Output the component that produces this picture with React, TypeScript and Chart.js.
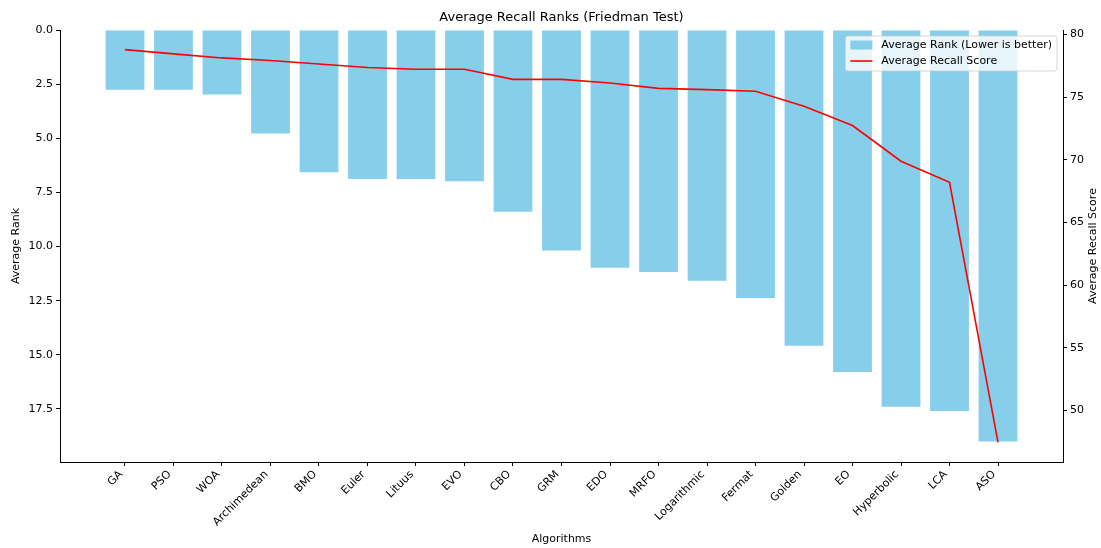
import React, { useEffect, useRef } from "react";
import { Chart, registerables } from "chart.js";

Chart.register(...registerables);

const algorithms = ["GA", "PSO", "WOA", "Archimedean", "BMO", "Euler", "Lituus", "EVO", "CBO", "GRM", "EDO", "MRFO", "Logarithmic", "Fermat", "Golden", "EO", "Hyperbolic", "LCA", "ASO"];
const avgRanks = [2.76, 2.76, 2.98, 4.78, 6.57, 6.88, 6.88, 6.99, 8.39, 10.18, 10.98, 11.18, 11.58, 12.38, 14.58, 15.79, 17.4, 17.59, 19.0];
const avgRecall = [78.8, 78.46, 78.14, 77.93, 77.66, 77.37, 77.23, 77.23, 76.43, 76.43, 76.14, 75.71, 75.61, 75.48, 74.28, 72.74, 69.89, 68.21, 47.44];
const rankTicks = [0, 2.5, 5, 7.5, 10, 12.5, 15, 17.5];
const recallTicks = [50, 55, 60, 65, 70, 75, 80];

const TITLE = "Average Recall Ranks (Friedman Test)";
const LEGEND_BAR = "Average Rank (Lower is better)";
const LEGEND_LINE = "Average Recall Score";
const RIGHT_TITLE = "Average Recall Score";
const FONT = "DejaVu Sans";
const FS = 11;
const BAR_COLOR = "#87CEEB";
const LINE_COLOR = "#FF0000";

const overlayPlugin = {
  id: "overlay",
  afterDraw(chart: any) {
    const { ctx, chartArea } = chart;
    ctx.save();
    // title
    ctx.font = `13px "${FONT}"`;
    ctx.fillStyle = "#000";
    ctx.textAlign = "center";
    ctx.textBaseline = "middle";
    ctx.fillText(TITLE, (chartArea.left + chartArea.right) / 2, 18);

    // right axis title (reads bottom to top)
    ctx.save();
    ctx.font = `${FS}px "${FONT}"`;
    ctx.translate(1093, (chartArea.top + chartArea.bottom) / 2);
    ctx.rotate(-Math.PI / 2);
    ctx.textAlign = "center";
    ctx.textBaseline = "middle";
    ctx.fillText(RIGHT_TITLE, 0, 0);
    ctx.restore();

    // legend
    ctx.font = `${FS}px "${FONT}"`;
    const tw = Math.max(ctx.measureText(LEGEND_BAR).width, ctx.measureText(LEGEND_LINE).width);
    const w = 36 + tw + 5;
    const h = 35;
    const right = chartArea.right - 6;
    const left = right - w;
    const top = chartArea.top + 6;
    const r = 2.5;
    ctx.beginPath();
    ctx.moveTo(left + r, top);
    ctx.lineTo(left + w - r, top);
    ctx.quadraticCurveTo(left + w, top, left + w, top + r);
    ctx.lineTo(left + w, top + h - r);
    ctx.quadraticCurveTo(left + w, top + h, left + w - r, top + h);
    ctx.lineTo(left + r, top + h);
    ctx.quadraticCurveTo(left, top + h, left, top + h - r);
    ctx.lineTo(left, top + r);
    ctx.quadraticCurveTo(left, top, left + r, top);
    ctx.closePath();
    ctx.fillStyle = "rgba(255,255,255,0.8)";
    ctx.fill();
    ctx.strokeStyle = "rgba(204,204,204,0.8)";
    ctx.lineWidth = 1;
    ctx.stroke();

    const y1 = top + 9;
    const y2 = top + 25;
    ctx.fillStyle = BAR_COLOR;
    ctx.fillRect(left + 5, y1 - 4.5, 22, 9);
    ctx.strokeStyle = LINE_COLOR;
    ctx.lineWidth = 1.6;
    ctx.beginPath();
    ctx.moveTo(left + 5, y2);
    ctx.lineTo(left + 27, y2);
    ctx.stroke();

    ctx.fillStyle = "#000";
    ctx.textAlign = "left";
    ctx.textBaseline = "middle";
    ctx.fillText(LEGEND_BAR, left + 36, y1);
    ctx.fillText(LEGEND_LINE, left + 36, y2);
    ctx.restore();
  },
};

export default function App() {
  const ref = useRef<HTMLCanvasElement | null>(null);

  useEffect(() => {
    if (!ref.current) return;
    Chart.defaults.font.family = FONT;
    Chart.defaults.font.size = FS;
    Chart.defaults.color = "#000";

    const chart = new Chart(ref.current, {
      type: "bar",
      data: {
        datasets: [
          {
            type: "line",
            label: LEGEND_LINE,
            data: avgRecall.map((v, i) => ({ x: i, y: v })),
            borderColor: LINE_COLOR,
            backgroundColor: LINE_COLOR,
            borderWidth: 1.6,
            pointRadius: 0,
            tension: 0,
            yAxisID: "y1",
            xAxisID: "x",
            order: 0,
          } as any,
          {
            type: "bar",
            label: LEGEND_BAR,
            data: avgRanks.map((v, i) => ({ x: i, y: v })),
            backgroundColor: BAR_COLOR,
            borderWidth: 0,
            categoryPercentage: 1,
            barPercentage: 0.8,
            yAxisID: "y",
            xAxisID: "x",
            order: 1,
          } as any,
        ],
      },
      options: {
        animation: false,
        responsive: false,
        devicePixelRatio: 1,
        layout: { padding: { top: 30, left: 0, right: 0, bottom: 0 } },
        plugins: {
          legend: { display: false },
          title: { display: false },
          tooltip: { enabled: false },
        },
        scales: {
          x: {
            type: "linear",
            offset: false,
            min: -1.34,
            max: 19.34,
            afterBuildTicks: (s: any) => {
              s.ticks = algorithms.map((_, i) => ({ value: i }));
            },
            afterFit: (s: any) => {
              s.height = 86;
            },
            ticks: {
              minRotation: 45,
              maxRotation: 45,
              autoSkip: false,
              padding: 2,
              labelOffset: -4,
              font: { size: FS },
              callback: (v: any) => algorithms[Math.round(Number(v))] ?? "",
            },
            grid: { offset: false, drawOnChartArea: false, drawTicks: true, tickLength: 4, color: "#000" },
            border: { display: true, color: "#000", width: 1 },
            title: { display: true, text: "Algorithms", font: { size: FS }, padding: { top: 0, bottom: 2 } },
          },
          y: {
            type: "linear",
            position: "left",
            reverse: true,
            min: 0,
            max: 19.95,
            afterBuildTicks: (s: any) => {
              s.ticks = rankTicks.map((v) => ({ value: v }));
            },
            afterFit: (s: any) => {
              s.width = 60;
            },
            ticks: {
              padding: 3,
              font: { size: FS },
              callback: (v: any) => Number(v).toFixed(1),
            },
            grid: { drawOnChartArea: false, drawTicks: true, tickLength: 4, color: "#000" },
            border: { display: true, color: "#000", width: 1 },
            title: { display: true, text: "Average Rank", font: { size: FS }, padding: { top: 10, bottom: 0 } },
          },
          y1: {
            type: "linear",
            position: "right",
            min: 45.87,
            max: 80.37,
            afterBuildTicks: (s: any) => {
              s.ticks = recallTicks.map((v) => ({ value: v }));
            },
            afterFit: (s: any) => {
              s.width = 38;
            },
            ticks: {
              padding: 3,
              font: { size: FS },
              callback: (v: any) => String(v),
            },
            grid: { drawOnChartArea: false, drawTicks: true, tickLength: 4, color: "#000" },
            border: { display: true, color: "#000", width: 1 },
            title: { display: false },
          },
        },
      } as any,
      plugins: [overlayPlugin],
    });
    return () => chart.destroy();
  }, []);

  return (
    <div style={{ position: "absolute", left: 0, top: 0, width: 1101, height: 548, background: "#fff" }}>
      <canvas ref={ref} width={1101} height={548} style={{ display: "block", width: 1101, height: 548 }} />
    </div>
  );
}
